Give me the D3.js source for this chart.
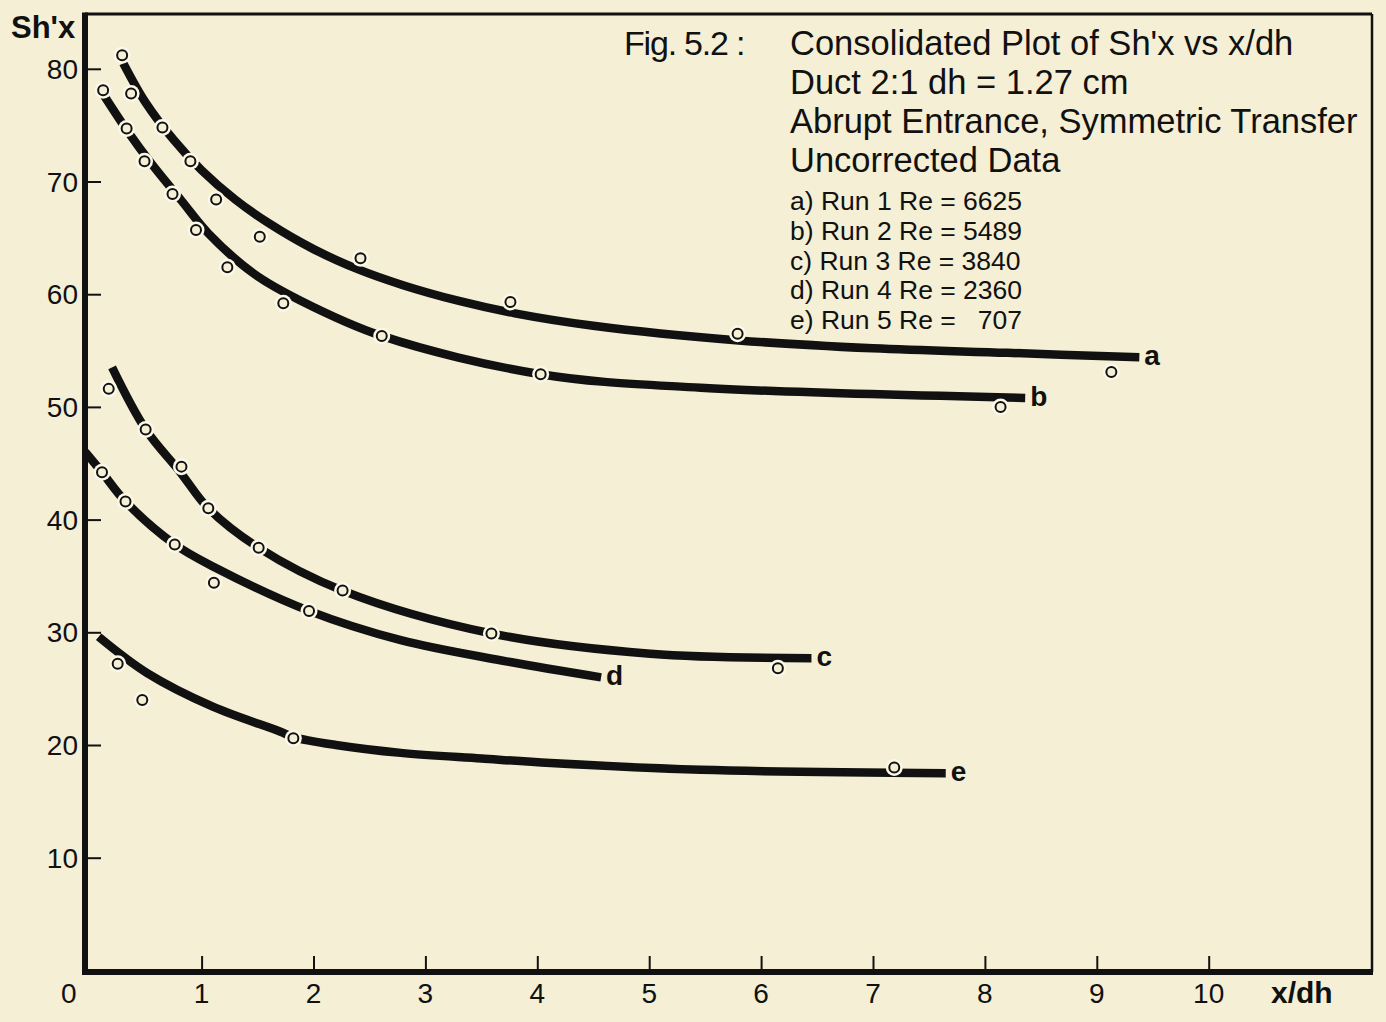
<!DOCTYPE html>
<html>
<head>
<meta charset="utf-8">
<script src="https://cdn.jsdelivr.net/npm/d3@7"></script>
<style>
  html, body { margin: 0; padding: 0; background: #f4efd5; }
  svg { display: block; }
  text { font-family: "Liberation Sans", Arial, sans-serif; fill: #111; }
</style>
</head>
<body>
<svg id="chart" width="1386" height="1022"></svg>
<script>
// ---------------- data ----------------
const xTicks = [0, 1, 2, 3, 4, 5, 6, 7, 8, 9, 10];
const yTicks = [10, 20, 30, 40, 50, 60, 70, 80];

const seriesNames = ["a", "b", "c", "d", "e"];

const titleLines = [
  "Consolidated Plot of Sh'x vs x/dh",
  "Duct 2:1 dh = 1.27 cm",
  "Abrupt Entrance, Symmetric Transfer",
  "Uncorrected Data"
];
const figLabel = "Fig. 5.2 :";
const legendLines = [
  "a) Run 1 Re = 6625",
  "b) Run 2 Re = 5489",
  "c) Run 3 Re = 3840",
  "d) Run 4 Re = 2360",
  "e) Run 5 Re =   707"
];

// measured points (x/dh, Sh'x)
const pointsA = [[0.29,81.2],[0.37,77.8],[0.65,74.8],[0.90,71.8],[1.13,68.4],[1.52,65.1],[2.42,63.2],[3.76,59.3],[5.79,56.5],[9.13,53.1]];
const pointsB = [[0.12,78.1],[0.33,74.7],[0.49,71.8],[0.74,68.9],[0.95,65.7],[1.23,62.4],[1.73,59.2],[2.61,56.3],[4.03,52.9],[8.14,50.0]];
const pointsC = [[0.17,51.6],[0.50,48.0],[0.82,44.7],[1.06,41.0],[1.51,37.5],[2.26,33.7],[3.59,29.9],[6.15,26.8]];
const pointsD = [[0.11,44.2],[0.32,41.6],[0.76,37.8],[1.11,34.4],[1.96,31.9]];
const pointsE = [[0.25,27.2],[0.47,24.0],[1.82,20.6],[7.19,18.0]];

// fitted curves (x/dh, Sh'x)
const curveA = [[0.30,80.5],[0.50,77.0],[0.75,73.7],[1.00,71.0],[1.30,68.4],[1.60,66.3],[2.00,64.0],[2.40,62.2],[2.80,60.8],[3.30,59.4],[3.80,58.3],[4.50,57.2],[5.80,55.9],[7.00,55.2],[8.20,54.8],[9.38,54.4]];
const curveB = [[0.13,77.6],[0.35,74.3],[0.55,71.6],[0.82,68.3],[1.06,65.4],[1.47,61.8],[1.89,59.4],[2.61,56.3],[4.03,52.9],[5.46,51.7],[8.36,50.8]];
const curveC = [[0.20,53.5],[0.50,48.0],[0.81,44.2],[1.06,41.0],[1.51,37.5],[2.26,33.7],[3.59,29.9],[5.01,28.1],[6.45,27.7]];
const curveD = [[-0.04,46.0],[0.11,44.2],[0.32,41.6],[0.76,37.8],[1.11,35.8],[1.96,31.9],[2.78,29.3],[3.68,27.5],[4.57,26.0]];
const curveE = [[0.08,29.6],[0.51,26.4],[1.10,23.4],[1.70,21.2],[1.82,20.7],[2.20,20.0],[2.78,19.3],[3.50,18.8],[4.12,18.4],[5.46,17.8],[7.65,17.5]];

const allPoints = [pointsA, pointsB, pointsC, pointsD, pointsE];
const allCurves = [curveA, curveB, curveC, curveD, curveE];

// ---------------- drawing ----------------
const bg = "#f4efd5";
const svg = d3.select("#chart");
svg.append("rect").attr("width", 1386).attr("height", 1022).attr("fill", bg);

const x = d3.scaleLinear().domain([0, 10]).range([89.7, 1208.7]);
const y = d3.scaleLinear().domain([0, 80]).range([970.4, 68.8]);

const frameL = 85, frameR = 1372, frameT = 14, frameB = 972;

// frame
svg.append("line").attr("x1", frameL).attr("x2", frameR).attr("y1", frameT).attr("y2", frameT)
  .attr("stroke", "#111").attr("stroke-width", 3);
svg.append("line").attr("x1", frameR).attr("x2", frameR).attr("y1", frameT).attr("y2", frameB)
  .attr("stroke", "#111").attr("stroke-width", 2.5);

// axes via d3 axis
const xAxis = svg.append("g").attr("transform", `translate(0,${frameB})`)
  .call(d3.axisBottom(x).tickValues(xTicks.slice(1)).tickSize(-16).tickFormat(""));
xAxis.select(".domain").remove();
xAxis.selectAll(".tick line").attr("stroke", "#111").attr("stroke-width", 2);

const yAxis = svg.append("g").attr("transform", `translate(${frameL},0)`)
  .call(d3.axisLeft(y).tickValues(yTicks).tickSize(-16).tickFormat(""));
yAxis.select(".domain").remove();
yAxis.selectAll(".tick line").attr("stroke", "#111").attr("stroke-width", 2);

// thick axis lines
svg.append("line").attr("x1", frameL).attr("x2", frameL).attr("y1", frameT - 1.5).attr("y2", frameB + 2.5)
  .attr("stroke", "#111").attr("stroke-width", 6);
svg.append("line").attr("x1", frameL - 3).attr("x2", frameR + 1).attr("y1", frameB).attr("y2", frameB)
  .attr("stroke", "#111").attr("stroke-width", 6);

// tick labels
svg.append("g").selectAll("text").data(xTicks).join("text")
  .attr("x", d => d === 0 ? x(0) - 21 : x(d))
  .attr("y", 1003)
  .attr("text-anchor", "middle")
  .attr("font-size", 28)
  .text(d => d);

svg.append("g").selectAll("text").data(yTicks).join("text")
  .attr("x", 78)
  .attr("y", d => y(d) + 10)
  .attr("text-anchor", "end")
  .attr("font-size", 28)
  .text(d => d);

// axis titles
svg.append("text").attr("x", 11).attr("y", 38).attr("font-size", 31).attr("font-weight", "bold").text("Sh'x");
svg.append("text").attr("x", 1271).attr("y", 1003).attr("font-size", 30).attr("font-weight", "bold").text("x/dh");

// curves
const line = d3.line().x(d => x(d[0])).y(d => y(d[1])).curve(d3.curveCatmullRom.alpha(0.5));
svg.append("g").selectAll("path").data(allCurves).join("path")
  .attr("d", line)
  .attr("fill", "none")
  .attr("stroke", "#111")
  .attr("stroke-width", 8.5)
  .attr("stroke-linecap", "butt");

// curve end labels
svg.append("g").selectAll("text").data(allCurves).join("text")
  .attr("x", d => x(d[d.length - 1][0]) + 5)
  .attr("y", d => y(d[d.length - 1][1]) + 8)
  .attr("font-size", 28)
  .attr("font-weight", "bold")
  .text((d, i) => seriesNames[i]);

// points with halo
const flat = allPoints.flat();
svg.append("g").selectAll("circle").data(flat).join("circle")
  .attr("cx", d => x(d[0])).attr("cy", d => y(d[1]))
  .attr("r", 8.5).attr("fill", "#fbf8e8");
svg.append("g").selectAll("circle").data(flat).join("circle")
  .attr("cx", d => x(d[0])).attr("cy", d => y(d[1]))
  .attr("r", 5).attr("fill", bg).attr("stroke", "#111").attr("stroke-width", 2);

// title block
svg.append("text").attr("x", 624).attr("y", 55).attr("font-size", 34).attr("letter-spacing", -1.2).text(figLabel);
svg.append("g").selectAll("text").data(titleLines).join("text")
  .attr("x", 790).attr("y", (d, i) => 55 + i * 39)
  .attr("font-size", 34.5)
  .text(d => d);
svg.append("g").selectAll("text").data(legendLines).join("text")
  .attr("x", 790).attr("y", (d, i) => 210 + i * 29.8)
  .attr("font-size", 26.5)
  .style("white-space", "pre")
  .text(d => d);
</script>
</body>
</html>
